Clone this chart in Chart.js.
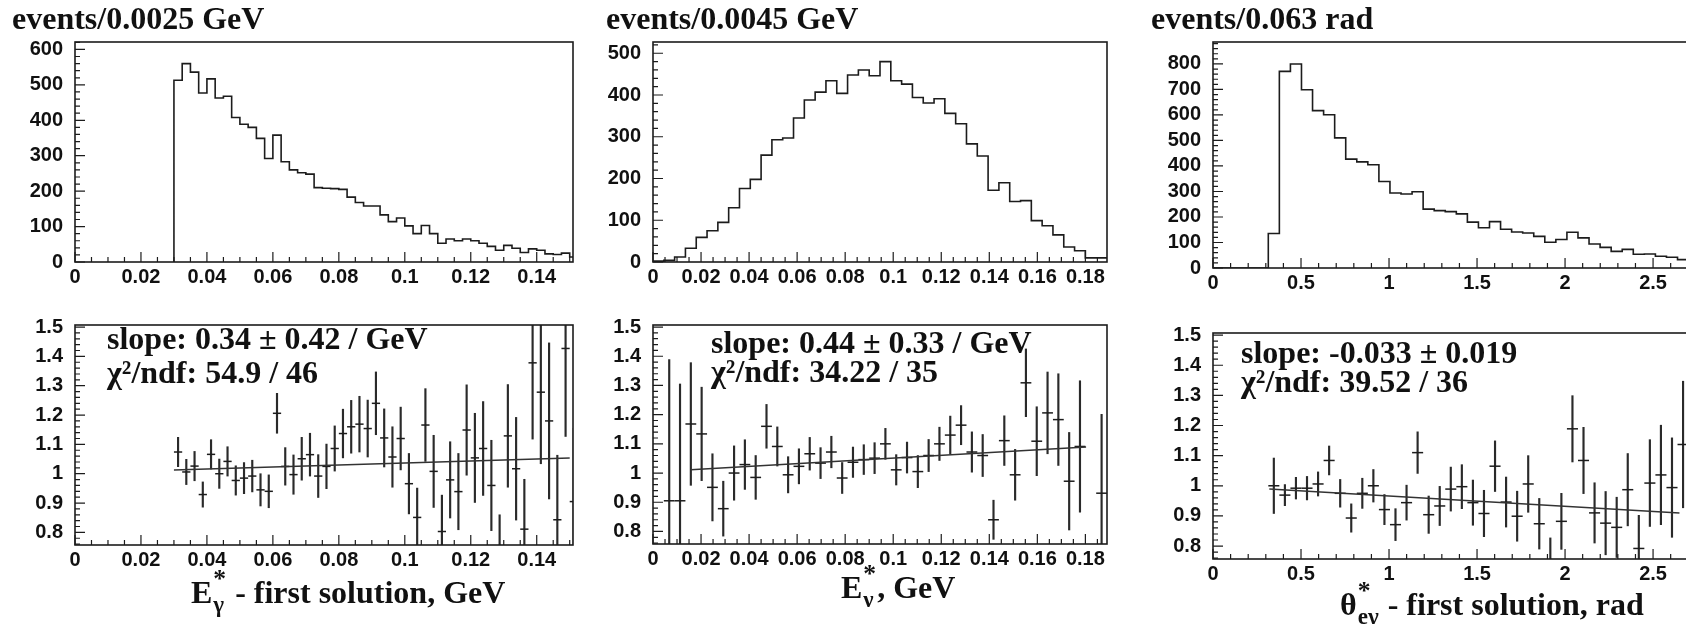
<!DOCTYPE html>
<html>
<head>
<meta charset="utf-8">
<title>E gamma / E nu / theta ratios</title>
<script src="https://cdn.jsdelivr.net/npm/chart.js@4.4.1/dist/chart.umd.min.js"></script>
<style>
  html, body { margin: 0; padding: 0; background: #fff; }
  body { position: relative; width: 1686px; height: 624px; overflow: hidden; }
  canvas { position: absolute; }
</style>
</head>
<body>
<canvas id="hEg" width="575" height="302" style="left:12px;top:0px"></canvas>
<canvas id="hEn" width="515" height="302" style="left:606px;top:0px"></canvas>
<canvas id="hTh" width="629" height="308" style="left:1151px;top:0px"></canvas>
<canvas id="rEg" width="587" height="334" style="left:0px;top:290px"></canvas>
<canvas id="rEn" width="531" height="334" style="left:590px;top:290px"></canvas>
<canvas id="rTh" width="630" height="334" style="left:1150px;top:290px"></canvas>
<script>
const INK = '#1c1c1c';
const SERIF = '"Liberation Serif", "Times New Roman", serif';
const SANS = '"Liberation Sans", Arial, Helvetica, sans-serif';

// ---- top row: events per bin ----
const egLo = 0.03, egWidth = 0.0025;        // E*_gamma, first solution
const egCounts = [513, 560, 536, 477, 517, 463, 468, 408, 389, 380,
                  349, 292, 358, 283, 260, 252, 248, 210, 208, 207,
                  205, 183, 168, 158, 158, 133, 114, 124, 102, 80,
                  103, 80, 53, 65, 60, 65, 60, 53, 44, 33,
                  47, 39, 27, 37, 33, 23, 21, 25, 14];
const enLo = 0, enWidth = 0.0045;            // E*_nu
const enCounts = [2, 4, 12, 33, 59, 75, 95, 130, 176, 198,
                  256, 293, 297, 345, 388, 407, 434, 404, 448, 460,
                  446, 480, 434, 426, 394, 381, 391, 356, 331, 283,
                  254, 172, 190, 145, 147, 99, 87, 65, 36, 27,
                  10, 10];
const thLo = 0, thWidth = Math.PI / 50;      // theta*_e gamma
const thCounts = [0, 0, 0, 0, 0, 135, 771, 800, 699, 617,
                  601, 510, 427, 416, 405, 339, 294, 290, 299, 231,
                  225, 221, 212, 180, 158, 182, 152, 141, 137, 124,
                  101, 112, 140, 118, 94, 81, 65, 73, 54, 55,
                  46, 42, 33, 24];

// ---- bottom row: ratio per bin and its error (null = empty bin) ----
const egRatio = [1.074, 1.006, 1.026, 0.929, 1.066, 1.0, 1.042, 0.977, 0.985, 0.992,
                 0.945, 0.94, 1.206, 1.025, 0.997, 1.051, 1.065, 0.992, 1.025, 1.086,
                 1.137, 1.16, 1.169, 1.154, 1.24, 1.122, 1.057, 1.12, 0.966, 0.851,
                 1.166, 1.008, 0.803, 0.979, 0.939, 1.149, 1.054, 1.086, 0.96, 0.74,
                 1.129, 1.017, 0.811, 1.378, 1.278, 1.18, 0.843, 1.427, 0.905];
const egRatioErr = [0.05, 0.043, 0.05, 0.043, 0.05, 0.05, 0.05, 0.05, 0.053, 0.054,
                    0.055, 0.056, 0.068, 0.064, 0.067, 0.073, 0.073, 0.073, 0.076, 0.077,
                    0.083, 0.09, 0.095, 0.097, 0.107, 0.099, 0.103, 0.107, 0.103, 0.1,
                    0.124, 0.123, 0.124, 0.13, 0.13, 0.154, 0.152, 0.16, 0.154, 0.12,
                    0.175, 0.175, 0.17, 0.26, 0.244, 0.266, 0.22, 0.3, 0.25];
const enRatio = [null, 0.905, 0.905, 1.168, 1.134, 0.951, 0.878, 1.0, 1.029, 0.985,
                 1.16, 1.091, 0.994, 1.023, 1.066, 1.034, 1.072, 0.983, 1.037, 1.046,
                 1.051, 1.1, 1.011, 1.053, 1.005, 1.06, 1.1, 1.13, 1.164, 1.072,
                 1.06, 0.84, 1.111, 0.994, 1.309, 1.109, 1.206, 1.183, 0.972, 1.091,
                 null, 0.931];
const enRatioErr = [null, 0.484, 0.4, 0.21, 0.16, 0.115, 0.094, 0.093, 0.085, 0.075,
                    0.075, 0.067, 0.062, 0.06, 0.056, 0.053, 0.054, 0.053, 0.052, 0.051,
                    0.053, 0.053, 0.052, 0.053, 0.055, 0.055, 0.057, 0.065, 0.067, 0.069,
                    0.072, 0.067, 0.085, 0.087, 0.116, 0.118, 0.14, 0.157, 0.167, 0.225,
                    null, 0.27];
const thRatio = [null, null, null, null, null, 1.0, 0.969, 0.992, 0.992, 1.006,
                 1.084, 0.975, 0.893, 0.975, 1.0, 0.921, 0.871, 0.944, 1.11, 0.904,
                 0.933, 0.989, 0.997, 0.944, 0.908, 1.065, 0.946, 0.899, 1.006, 0.874,
                 0.747, 0.882, 1.189, 1.084, 0.91, 0.876, 0.862, 0.987, 0.792, 1.009,
                 1.036, 0.994, 1.137, 1.079, 1.26];
const thRatioErr = [null, null, null, null, null, 0.092, 0.035, 0.036, 0.039, 0.04,
                    0.048, 0.046, 0.047, 0.05, 0.054, 0.05, 0.053, 0.058, 0.069, 0.062,
                    0.065, 0.073, 0.073, 0.075, 0.077, 0.084, 0.083, 0.083, 0.094, 0.084,
                    0.08, 0.093, 0.11, 0.11, 0.1, 0.105, 0.1, 0.12, 0.11, 0.144,
                    0.165, 0.165, 0.21, 0.235, 0.25];

// ---- straight-line fits, end points ----
const egFit = [[0.03, 1.013], [0.15, 1.054]];
const enFit = [[0.0157, 1.011], [0.1803, 1.089]];
const thFit = [[0.32, 0.989], [2.65, 0.91]];

const egFitText = ['slope: 0.34 \u00b1 0.42 / GeV', '\u03c7\u00b2/ndf: 54.9 / 46'];
const enFitText = ['slope: 0.44 \u00b1 0.33 / GeV', '\u03c7\u00b2/ndf: 34.22 / 35'];
const thFitText = ['slope: -0.033 \u00b1 0.019', '\u03c7\u00b2/ndf: 39.52 / 36'];

// axis titles with ROOT style super/subscripts
const egTitle = [{ t: 'E' }, { t: '*', sup: true }, { t: '\u03b3', sub: true }, { t: ' - first solution, GeV' }];
const enTitle = [{ t: 'E' }, { t: '*', sup: true }, { t: '\u03bd', sub: true }, { t: ', GeV' }];
const thTitle = [{ t: '\u03b8' }, { t: '*', sup: true }, { t: 'e\u03b3', sub: true }, { t: ' - first solution, rad' }];

function histogram(lo, w, counts) {
  const pts = [{ x: lo, y: 0 }];
  counts.forEach((c, i) => pts.push({ x: lo + i * w, y: c }));
  pts.push({ x: lo + counts.length * w, y: counts[counts.length - 1] });
  return pts;
}

function ratioPoints(lo, w, vals) {
  return vals.map((v, i) => v === null ? null : { x: lo + (i + 0.5) * w, y: v }).filter(Boolean);
}

function ratioBars(lo, w, vals, errs) {
  return vals.map((v, i) => v === null ? null : { x: lo + (i + 0.5) * w, y: [v - errs[i], v + errs[i]] })
             .filter(Boolean);
}

function histSets(lo, w, counts) {
  return [{
    type: 'line', data: histogram(lo, w, counts), stepped: true,
    borderColor: INK, borderWidth: 1.6, pointRadius: 0, fill: false
  }];
}

function ratioSets(lo, w, vals, errs, fit) {
  const halfBin = ctx => {
    const s = ctx.chart.scales.x;
    return (s.getPixelForValue(w) - s.getPixelForValue(0)) / 2;
  };
  return [
    { type: 'line', data: fit.map(([x, y]) => ({ x, y })), borderColor: '#333', borderWidth: 1.5,
      pointRadius: 0, fill: false },
    { type: 'line', data: ratioPoints(lo, w, vals), showLine: false, pointStyle: 'line',
      pointRadius: halfBin, pointBorderColor: INK, pointBorderWidth: 1.5, pointBackgroundColor: INK },
    { type: 'bar', data: ratioBars(lo, w, vals, errs), backgroundColor: '#2a2a2a', borderWidth: 0,
      barThickness: 1.5, grouped: false }
  ];
}

// frame box plus inward ROOT-like tick marks
function frameTicks(xMinor, yMinor) {
  return {
    id: 'frameTicks',
    afterDatasetsDraw(chart) {
      const { ctx, chartArea: a, scales: { x, y } } = chart;
      ctx.save();
      ctx.strokeStyle = INK;
      ctx.lineWidth = 1.2;
      ctx.beginPath();
      const run = (s, step, len, horiz) => {
        const n0 = Math.ceil(s.min / step - 1e-6), n1 = Math.floor(s.max / step + 1e-6);
        for (let n = n0; n <= n1; n++) {
          const p = s.getPixelForValue(n * step);
          if (horiz) { ctx.moveTo(p, a.bottom); ctx.lineTo(p, a.bottom - len); }
          else { ctx.moveTo(a.left, p); ctx.lineTo(a.left + len, p); }
        }
      };
      run(x, xMinor, 5, true);
      run(x, x.options.ticks.stepSize, 10, true);
      run(y, yMinor, 5, false);
      run(y, y.options.ticks.stepSize, 10, false);
      ctx.stroke();
      ctx.lineWidth = 1.6;
      ctx.strokeRect(a.left, a.top, a.right - a.left, a.bottom - a.top);
      ctx.restore();
    }
  };
}

function drawParts(ctx, parts, x, y, size) {
  let cx = x, pend = 0;
  parts.forEach(p => {
    if (p.sup || p.sub) {
      const s = p.sup ? size * 0.8 : size * 0.72;
      ctx.font = `bold ${s}px ${SERIF}`;
      ctx.fillText(p.t, cx + 1, y + (p.sup ? -size * 0.5 : size * 0.28));
      pend = Math.max(pend, ctx.measureText(p.t).width + 2);
    } else {
      cx += pend; pend = 0;
      ctx.font = `bold ${size}px ${SERIF}`;
      ctx.fillText(p.t, cx, y);
      cx += ctx.measureText(p.t).width;
    }
  });
}

function texts(t) {
  return {
    id: 'texts',
    afterDraw(chart) {
      if (!t) return;
      const { ctx, chartArea: a } = chart;
      ctx.save();
      ctx.fillStyle = '#111';
      ctx.textAlign = 'left';
      ctx.textBaseline = 'alphabetic';
      ctx.font = `bold 32px ${SERIF}`;
      t.lines.forEach((line, i) => ctx.fillText(line, a.left + t.dx, a.top + t.dy[i]));
      drawParts(ctx, t.axis, a.left + t.ax, a.bottom + t.ay, 32);
      ctx.restore();
    }
  };
}

function axis(a, dir, size) {
  return {
    type: 'linear', min: a.min, max: a.max, offset: false,
    grid: { display: false, drawTicks: false }, border: { display: false },
    afterFit: s => { if (dir === 'x') s.height = size; else s.width = size; },
    ticks: {
      stepSize: a.step, includeBounds: false, autoSkip: false, maxRotation: 0,
      color: '#111', font: { family: SANS, size: 20, weight: 'bold' },
      padding: dir === 'x' ? 3 : 12,
      callback: v => String(+v.toFixed(3))
    }
  };
}

function panel(id, p) {
  return new Chart(document.getElementById(id), {
    type: 'line',
    data: { datasets: p.datasets },
    options: {
      responsive: false,
      animation: false,
      events: [],
      layout: { padding: { top: p.padTop || 0, right: 14, bottom: 0, left: 0 } },
      plugins: {
        legend: { display: false },
        tooltip: { enabled: false },
        title: p.title ? {
          display: true, text: p.title, align: 'start', color: '#111',
          font: { family: SERIF, size: 32, weight: 'bold', lineHeight: 1.2 },
          padding: { top: 2, bottom: 1.6 }
        } : { display: false }
      },
      scales: {
        x: axis(p.x, 'x', p.xH),
        y: axis(p.y, 'y', p.yW)
      }
    },
    plugins: [frameTicks(p.x.minor, p.y.minor), texts(p.text)]
  });
}

const ratioY = { min: 0.757, max: 1.507, step: 0.1, minor: 0.02 };

panel('hEg', {
  title: 'events/0.0025 GeV', yW: 63, xH: 40,
  x: { min: 0, max: 0.151, step: 0.02, minor: 0.005 },
  y: { min: 0, max: 621, step: 100, minor: 20 },
  datasets: histSets(egLo, egWidth, egCounts)
});
panel('hEn', {
  title: 'events/0.0045 GeV', yW: 47, xH: 40,
  x: { min: 0, max: 0.189, step: 0.02, minor: 0.005 },
  y: { min: 0, max: 527, step: 100, minor: 20 },
  datasets: histSets(enLo, enWidth, enCounts)
});
panel('hTh', {
  title: 'events/0.063 rad', yW: 62, xH: 40,
  x: { min: 0, max: Math.PI, step: 0.5, minor: 0.1 },
  y: { min: 0, max: 886, step: 100, minor: 20 },
  datasets: histSets(thLo, thWidth, thCounts)
});
panel('rEg', {
  padTop: 35, yW: 75, xH: 79,
  x: { min: 0, max: 0.151, step: 0.02, minor: 0.005 },
  y: ratioY,
  datasets: ratioSets(egLo, egWidth, egRatio, egRatioErr, egFit),
  text: { lines: egFitText, dx: 32, dy: [24, 58], axis: egTitle, ax: 116, ay: 58 }
});
panel('rEn', {
  padTop: 35, yW: 63, xH: 80,
  x: { min: 0, max: 0.189, step: 0.02, minor: 0.005 },
  y: ratioY,
  datasets: ratioSets(enLo, enWidth, enRatio, enRatioErr, enFit),
  text: { lines: enFitText, dx: 58, dy: [28, 57], axis: enTitle, ax: 188, ay: 54 }
});
panel('rTh', {
  padTop: 43, yW: 63, xH: 65,
  x: { min: 0, max: Math.PI, step: 0.5, minor: 0.1 },
  y: ratioY,
  datasets: ratioSets(thLo, thWidth, thRatio, thRatioErr, thFit),
  text: { lines: thFitText, dx: 28, dy: [30, 59], axis: thTitle, ax: 127, ay: 56 }
});
</script>
</body>
</html>
